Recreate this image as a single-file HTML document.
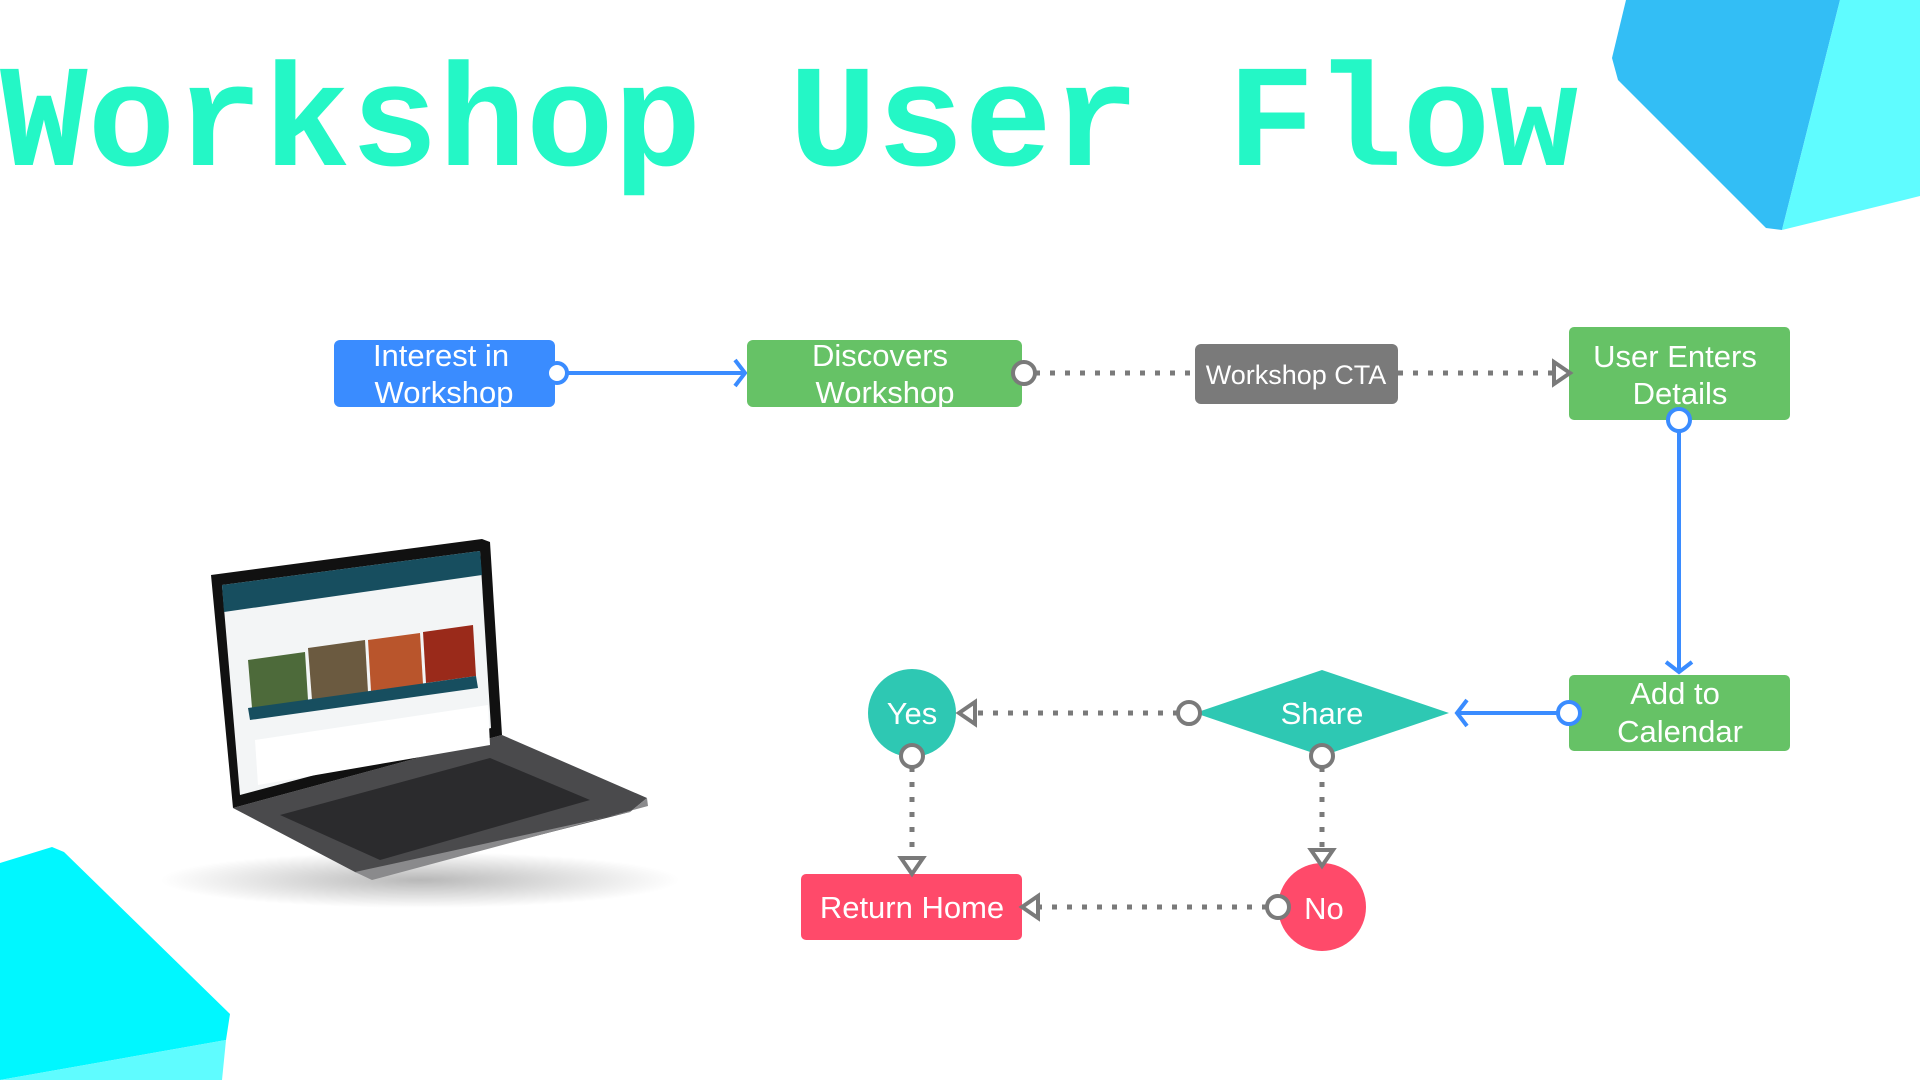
<!DOCTYPE html>
<html><head><meta charset="utf-8"><style>
html,body{margin:0;padding:0;background:#fff;width:1920px;height:1080px;overflow:hidden}
svg{position:absolute;left:0;top:0}
</style></head><body>
<svg width="1920" height="1080" viewBox="0 0 1920 1080" xmlns="http://www.w3.org/2000/svg">
<defs>
<radialGradient id="sh" cx="50%" cy="50%" r="50%"><stop offset="0" stop-color="#000" stop-opacity="0.28"/><stop offset="1" stop-color="#000" stop-opacity="0"/></radialGradient>
</defs>
<polygon points="1626,0 1840,0 1782,230 1766,228 1618,80 1612,58" fill="#33bef5"/>
<polygon points="1840,0 1920,0 1920,196 1782,230" fill="#5ffcff"/>
<polygon points="0,863 52,847 64,852 230,1014 226,1040 0,1080" fill="#00f7ff"/>
<polygon points="0,1080 226,1040 222,1080" fill="#5ffcff"/>
<text x="0" y="165" font-family="Liberation Mono, monospace" font-weight="bold" font-size="146" fill="#24f7c6" textLength="1578" lengthAdjust="spacingAndGlyphs">Workshop User Flow</text>

<ellipse cx="420" cy="880" rx="260" ry="28" fill="url(#sh)"/>
<polygon points="233,808 502,735 647,798 630,812 370,878 355,872" fill="#4a4a4c"/>
<polygon points="280,815 490,758 590,800 380,860" fill="#2b2b2d"/>
<polygon points="355,872 630,812 647,798 648,806 372,880" fill="#8a8a8c"/>
<polygon points="211,575 482,539 490,542 502,735 233,808" fill="#111"/>
<polygon points="222,585 480,551 491,728 240,795" fill="#f3f5f6"/>
<polygon points="222,585 480,551 482,575 224,612" fill="#174e5f"/>
<polygon points="248,660 305,652 308,700 252,708" fill="#4d6a3a"/>
<polygon points="308,648 365,640 368,692 312,700" fill="#6b5a40"/>
<polygon points="368,640 420,633 423,684 371,691" fill="#b9552c"/>
<polygon points="423,632 473,625 476,676 426,683" fill="#9a2a1a"/>
<polygon points="248,708 476,676 478,688 250,720" fill="#174e5f"/>
<polygon points="255,740 488,705 490,745 258,785" fill="#fff"/>

<g stroke-width="4" fill="none">
<line x1="568" y1="373" x2="745" y2="373" stroke="#3a8cff"/>
<polyline points="735,360 745,373 735,386" stroke="#3a8cff"/>
<line x1="1035" y1="373" x2="1195" y2="373" stroke="#7a7a7a" stroke-width="5" stroke-dasharray="5,10"/>
<line x1="1398" y1="373" x2="1555" y2="373" stroke="#7a7a7a" stroke-width="5" stroke-dasharray="5,10"/>
<line x1="1679" y1="431" x2="1679" y2="672" stroke="#3a8cff"/>
<polyline points="1666,662 1679,672 1692,662" stroke="#3a8cff"/>
<line x1="1558" y1="713" x2="1457" y2="713" stroke="#3a8cff"/>
<polyline points="1467,700 1457,713 1467,726" stroke="#3a8cff"/>
<line x1="1178" y1="713" x2="975" y2="713" stroke="#7a7a7a" stroke-width="5" stroke-dasharray="5,10"/>
<line x1="912" y1="767" x2="912" y2="858" stroke="#7a7a7a" stroke-width="5" stroke-dasharray="5,10"/>
<line x1="1322" y1="767" x2="1322" y2="850" stroke="#7a7a7a" stroke-width="5" stroke-dasharray="5,10"/>
<line x1="1267" y1="907" x2="1038" y2="907" stroke="#7a7a7a" stroke-width="5" stroke-dasharray="5,10"/>
</g>

<g font-family="Liberation Sans, Arial, sans-serif" font-size="31" fill="#fff" text-anchor="middle">
<rect x="334" y="340" width="221" height="67" rx="6" fill="#3a8cff"/>
<text x="441" y="366" fill="#fff">Interest in</text><text x="444" y="403" fill="#fff">Workshop</text>
<rect x="747" y="340" width="275" height="67" rx="6" fill="#66c266"/>
<text x="880" y="366" fill="#fff">Discovers</text><text x="885" y="403" fill="#fff">Workshop</text>
<rect x="1195" y="344" width="203" height="60" rx="6" fill="#7a7a7a"/>
<text x="1296" y="384" fill="#fff" font-size="27">Workshop CTA</text>
<rect x="1569" y="327" width="221" height="93" rx="5" fill="#66c266"/>
<text x="1675" y="367" fill="#fff">User Enters</text><text x="1680" y="404" fill="#fff">Details</text>
<rect x="1569" y="675" width="221" height="76" rx="5" fill="#66c266"/>
<text x="1675" y="704" fill="#fff">Add to</text><text x="1680" y="742" fill="#fff">Calendar</text>
<polygon points="1195,713 1322,670 1449,713 1322,756" fill="#2ec8b3"/>
<text x="1322" y="724" fill="#fff">Share</text>
<circle cx="912" cy="713" r="44" fill="#2ec8b3"/>
<text x="912" y="724" fill="#fff">Yes</text>
<circle cx="1322" cy="907" r="44" fill="#ff4a6a"/>
<text x="1324" y="919" fill="#fff">No</text>
<rect x="801" y="874" width="221" height="66" rx="5" fill="#ff4a6a"/>
<text x="912" y="918" fill="#fff">Return Home</text>
</g>

<g stroke-width="4" fill="#fff">
<circle cx="557" cy="373" r="10" stroke="#3a8cff"/>
<circle cx="1024" cy="373" r="11" stroke="#7a7a7a"/>
<polygon points="1554,362 1570,373 1554,384" stroke="#7a7a7a"/>
<circle cx="1679" cy="420" r="11" stroke="#3a8cff"/>
<circle cx="1569" cy="713" r="11" stroke="#3a8cff"/>
<circle cx="1189" cy="713" r="11" stroke="#7a7a7a"/>
<polygon points="975,702 959,713 975,724" stroke="#7a7a7a"/>
<circle cx="912" cy="756" r="11" stroke="#7a7a7a"/>
<polygon points="901,858 912,874 923,858" stroke="#7a7a7a"/>
<circle cx="1322" cy="756" r="11" stroke="#7a7a7a"/>
<polygon points="1311,850 1322,866 1333,850" stroke="#7a7a7a"/>
<circle cx="1278" cy="907" r="11" stroke="#7a7a7a"/>
<polygon points="1038,896 1022,907 1038,918" stroke="#7a7a7a"/>
</g>
</svg>
</body></html>
